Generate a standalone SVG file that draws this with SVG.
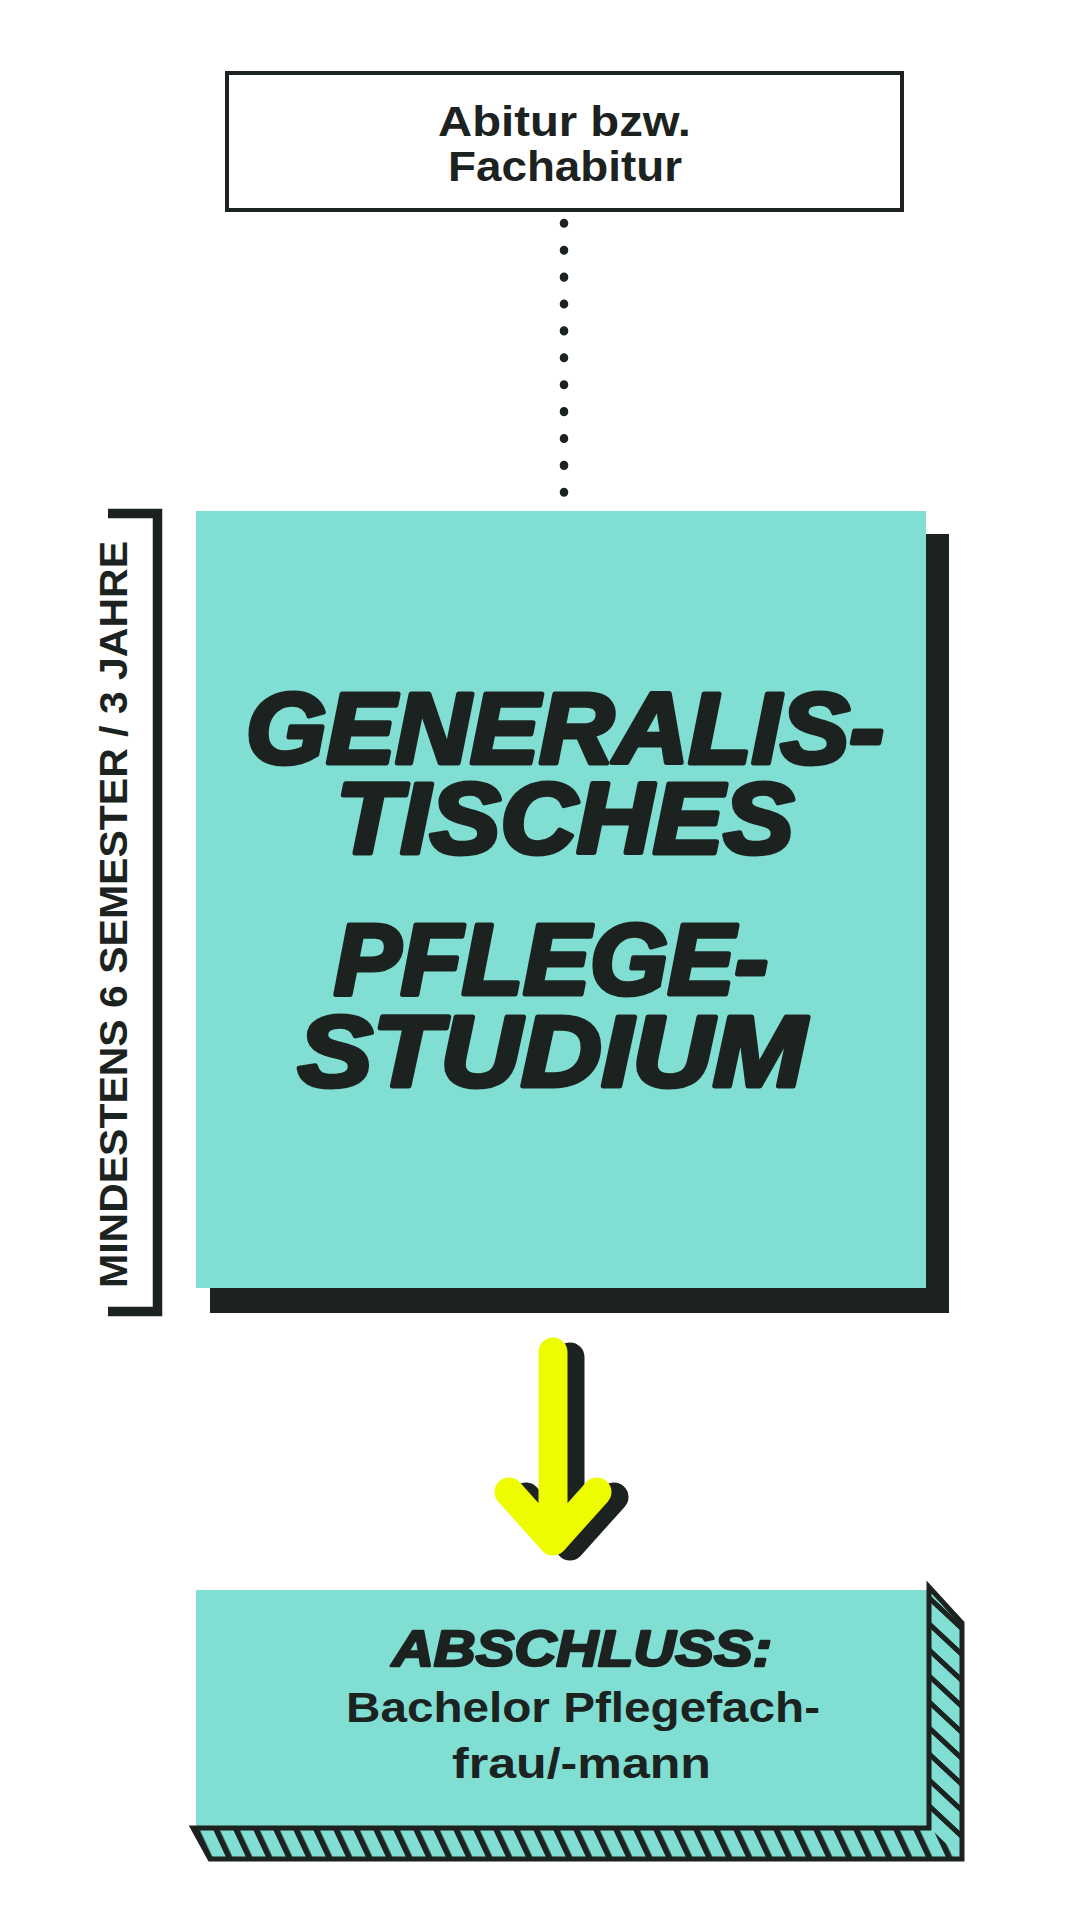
<svg xmlns="http://www.w3.org/2000/svg" width="1080" height="1920" viewBox="0 0 1080 1920">
  <defs>
    <style>
      .dark { fill: #1c2220; }
      .teal { fill: #80dfd2; }
      .lbl { font-family: "Liberation Sans", Arial, sans-serif; font-weight: bold; fill: #1c2220; }
      .hvy { font-family: "Liberation Sans", Arial, sans-serif; font-weight: bold; font-style: italic; fill: #1c2220; stroke: #1c2220; stroke-linejoin: round; }
    </style>
    <pattern id="hatchB" patternUnits="userSpaceOnUse" width="20" height="40" patternTransform="skewX(25)">
      <rect width="20" height="40" fill="#80dfd2"/>
      <rect width="6.5" height="40" fill="#1c2220"/>
    </pattern>
    <pattern id="hatchR" patternUnits="userSpaceOnUse" width="40" height="26" patternTransform="skewY(43)">
      <rect width="40" height="26" fill="#80dfd2"/>
      <rect width="40" height="7" fill="#1c2220"/>
    </pattern>
  </defs>
  <rect width="1080" height="1920" fill="#ffffff"/>

  <g id="connectors">
    <line x1="564" y1="223" x2="564" y2="493" stroke="#1c2220" stroke-width="8.5" stroke-linecap="round" stroke-dasharray="0.6 26.3"/>
    <g id="arrow" fill="none" stroke-linecap="round" stroke-linejoin="round" stroke-width="29">
      <path d="M570,1357 V1546 M526,1497 L570,1546 L614,1497" stroke="#1c2220"/>
      <path d="M553,1352 V1541 M509,1492 L553,1541 L597,1492" stroke="#eefc00"/>
    </g>
  </g>

  <g id="node-abitur">
    <rect x="227" y="73" width="675" height="137" fill="#ffffff" stroke="#1c2220" stroke-width="4"/>
    <text class="lbl" font-size="43" x="438" y="136" textLength="253" lengthAdjust="spacingAndGlyphs">Abitur bzw.</text>
    <text class="lbl" font-size="43" x="448" y="181" textLength="234" lengthAdjust="spacingAndGlyphs">Fachabitur</text>
  </g>

  <g id="duration">
    <path d="M108,513.5 H157.5 V1311.5 H108" fill="none" stroke="#1c2220" stroke-width="9.5"/>
    <text class="lbl" font-size="38" transform="translate(127,1288) rotate(-90)" x="0" y="0" textLength="747" lengthAdjust="spacingAndGlyphs">MINDESTENS 6 SEMESTER / 3 JAHRE</text>
  </g>

  <g id="node-studium">
    <rect class="dark" x="210" y="534" width="739" height="779"/>
    <rect class="teal" x="196" y="511" width="730" height="777"/>
    <text class="hvy" stroke-width="5" font-size="100" x="246" y="763" textLength="638" lengthAdjust="spacingAndGlyphs">GENERALIS-</text>
    <text class="hvy" stroke-width="5" font-size="100" x="336" y="853" textLength="458" lengthAdjust="spacingAndGlyphs">TISCHES</text>
    <text class="hvy" stroke-width="5" font-size="100" x="334" y="994" textLength="434" lengthAdjust="spacingAndGlyphs">PFLEGE-</text>
    <text class="hvy" stroke-width="5" font-size="100" x="298" y="1086" textLength="508" lengthAdjust="spacingAndGlyphs">STUDIUM</text>
  </g>

  <g id="node-abschluss">
    <rect class="teal" x="196" y="1590" width="735" height="238"/>
    <polygon points="931,1588 962,1623 962,1859 931,1829" fill="url(#hatchR)"/>
    <polygon points="193,1829 931,1829 962,1859 210,1859" fill="url(#hatchB)"/>
    <path d="M929,1587 L962,1623 L962,1859 L210,1859 L193,1828 L929,1828 Z" fill="none" stroke="#1c2220" stroke-width="5" stroke-linejoin="miter"/>
    <text class="hvy" stroke-width="2.5" font-size="50" x="392" y="1666" textLength="380" lengthAdjust="spacingAndGlyphs">ABSCHLUSS:</text>
    <text class="lbl" font-size="43" x="346" y="1722" textLength="474" lengthAdjust="spacingAndGlyphs">Bachelor Pflegefach-</text>
    <text class="lbl" font-size="43" x="452" y="1778" textLength="259" lengthAdjust="spacingAndGlyphs">frau/-mann</text>
  </g>
</svg>
